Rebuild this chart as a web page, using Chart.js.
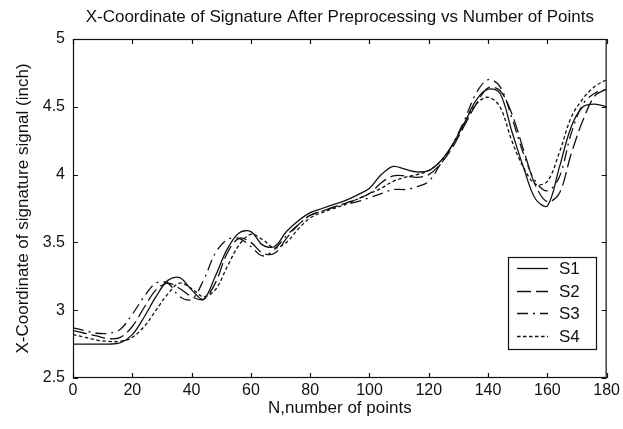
<!DOCTYPE html>
<html><head><meta charset="utf-8">
<script src="https://cdn.jsdelivr.net/npm/chart.js@4/dist/chart.umd.min.js"></script>
<style>html,body{margin:0;padding:0;background:#fff}</style>
</head><body>
<canvas id="c" width="623" height="429"></canvas>
<script>
const N  = [0,4,8,12,16,20,24,28,32,36,40,44,48,52,56,60,64,68,72,76,80,84,88,92,96,100,104,108,112,116,120,124,128,132,136,140,144,148,152,156,160,164,168,172,176,180];
const S1 = [2.75,2.75,2.75,2.75,2.76,2.82,2.95,3.10,3.22,3.24,3.15,3.08,3.25,3.45,3.57,3.58,3.48,3.47,3.58,3.66,3.72,3.75,3.78,3.81,3.85,3.90,4.00,4.06,4.04,4.02,4.03,4.10,4.22,4.38,4.55,4.63,4.60,4.32,4.05,3.82,3.77,4.05,4.35,4.50,4.52,4.50];
const S2 = [2.85,2.83,2.81,2.79,2.80,2.88,3.02,3.15,3.20,3.16,3.10,3.08,3.20,3.42,3.53,3.50,3.42,3.42,3.53,3.63,3.70,3.73,3.76,3.79,3.82,3.86,3.94,3.99,3.99,3.98,4.00,4.08,4.20,4.36,4.52,4.64,4.62,4.45,4.18,3.92,3.80,3.86,4.15,4.40,4.58,4.63];
const S3 = [2.87,2.85,2.83,2.83,2.86,2.97,3.10,3.20,3.20,3.10,3.08,3.22,3.42,3.52,3.53,3.47,3.40,3.45,3.55,3.63,3.70,3.73,3.76,3.78,3.80,3.83,3.86,3.89,3.89,3.91,3.95,4.08,4.22,4.40,4.60,4.70,4.65,4.42,4.15,3.95,3.88,3.98,4.30,4.52,4.60,4.63];
const S4 = [2.82,2.80,2.78,2.77,2.77,2.80,2.88,3.00,3.12,3.20,3.16,3.10,3.15,3.32,3.48,3.56,3.52,3.46,3.50,3.60,3.68,3.72,3.75,3.78,3.82,3.86,3.90,3.95,3.98,4.00,4.03,4.10,4.22,4.38,4.52,4.57,4.50,4.25,4.05,3.93,3.95,4.16,4.42,4.56,4.65,4.70];
const seriesNames = ['S1','S2','S3','S4'];
const xTicks = [0,20,40,60,80,100,120,140,160,180];
const yTicks = [2.5,3,3.5,4,4.5,5];
const yTickLabels = ['2.5','3','3.5','4','4.5','5'];
const titleText = 'X-Coordinate of Signature After Preprocessing vs Number of Points';
const xTitle = 'N,number of points';
const yTitle = 'X-Coordinate of signature signal (inch)';

const dashes = [[], [14,5], [11,5,2,5], [3.5,2.5]];
const seriesData = [S1,S2,S3,S4];
const INK = '#111';
const tickFont = {family:'"Liberation Sans",Arial,sans-serif', size:16};
const textFont = {family:'"Liberation Sans",Arial,sans-serif', size:17};

const datasets = seriesData.map((arr,i)=>({
  label: seriesNames[i],
  data: N.map((n,j)=>({x:n, y:arr[j]})),
  borderColor: INK, borderWidth: 1.3, borderDash: dashes[i],
  pointRadius: 0, tension: 0.35, fill: false
}));

const framePlugin = {
  id:'frame',
  afterDraw(chart){
    const {ctx, chartArea:a, scales:{x,y}} = chart;
    ctx.save();
    ctx.strokeStyle = INK; ctx.lineWidth = 1.2; ctx.setLineDash([]);
    ctx.strokeRect(a.left+0.5, a.top+0.5, a.right-a.left-1, a.bottom-a.top-1);
    const L = 5;
    ctx.beginPath();
    xTicks.forEach(v=>{ const p = Math.round(x.getPixelForValue(v))+0.5;
      ctx.moveTo(p,a.bottom); ctx.lineTo(p,a.bottom-L);
      ctx.moveTo(p,a.top); ctx.lineTo(p,a.top+L); });
    yTicks.forEach(v=>{ const p = Math.round(y.getPixelForValue(v))+0.5;
      ctx.moveTo(a.left,p); ctx.lineTo(a.left+L,p);
      ctx.moveTo(a.right,p); ctx.lineTo(a.right-L,p); });
    ctx.stroke();
    // title
    ctx.fillStyle = INK;
    ctx.font = `${textFont.size}px ${textFont.family}`;
    ctx.textAlign = 'center'; ctx.textBaseline = 'middle';
    ctx.fillText(titleText, (a.left+a.right)/2, 17);
    // legend
    const bx = 508, by = 257, bw = 88, bh = 92;
    ctx.fillStyle = '#fff';
    ctx.fillRect(bx, by, bw, bh);
    ctx.lineWidth = 1.2;
    ctx.strokeRect(bx+0.5, by+0.5, bw, bh);
    const rows = [268, 291, 313, 336];
    chart.data.datasets.forEach((ds,i)=>{
      ctx.setLineDash(ds.borderDash); ctx.lineWidth = ds.borderWidth;
      ctx.beginPath(); ctx.moveTo(517, rows[i]+0.5); ctx.lineTo(548, rows[i]+0.5); ctx.stroke();
      ctx.setLineDash([]);
      ctx.fillStyle = INK; ctx.textAlign = 'left';
      ctx.fillText(ds.label, 559, rows[i]+1);
    });
    ctx.restore();
  }
};

new Chart(document.getElementById('c'), {
  type:'line',
  data:{datasets},
  options:{
    responsive:false, animation:false,
    layout:{padding:{top:39, right:15, left:0, bottom:0}},
    plugins:{legend:{display:false}, title:{display:false}, tooltip:{enabled:false}},
    scales:{
      x:{type:'linear', min:0, max:180,
        afterBuildTicks:s=>{s.ticks = xTicks.map(v=>({value:v}));},
        afterFit:s=>{s.height = 51;},
        grid:{display:false, drawTicks:false}, border:{display:false},
        ticks:{color:INK, font:tickFont, padding:3, maxRotation:0, autoSkip:false,
               callback:(v)=>String(v)},
        title:{display:true, text:xTitle, color:INK, font:textFont, padding:{top:0,bottom:10}}},
      y:{type:'linear', min:2.5, max:5,
        afterBuildTicks:s=>{s.ticks = yTicks.map(v=>({value:v}));},
        afterFit:s=>{s.width = 73;},
        grid:{display:false, drawTicks:false}, border:{display:false},
        ticks:{color:INK, font:tickFont, padding:8, autoSkip:false,
               callback:(v)=>{const i = yTicks.indexOf(v); return i>=0 ? yTickLabels[i] : String(v);}},
        title:{display:true, text:yTitle, color:INK, font:textFont, padding:{top:13,bottom:0}}}
    }
  },
  plugins:[framePlugin]
});
</script>
</body></html>
